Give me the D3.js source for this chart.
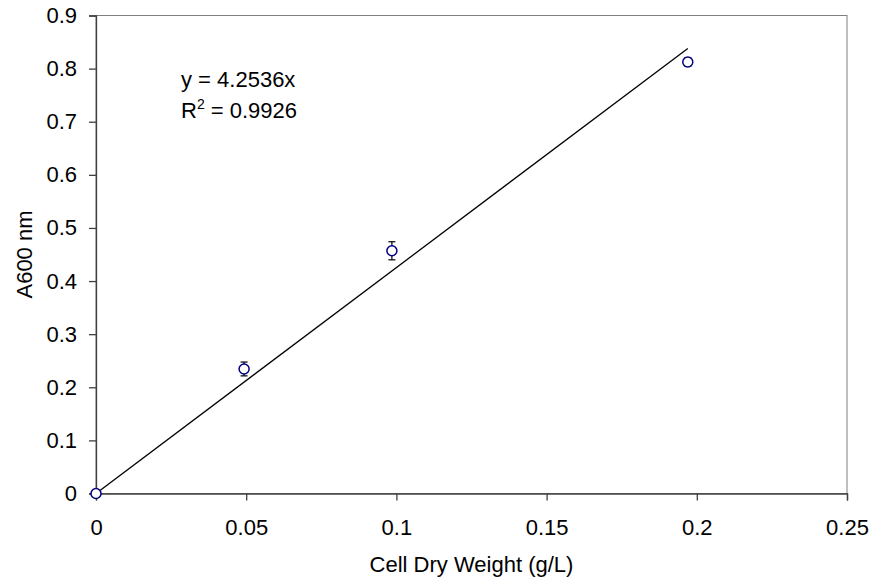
<!DOCTYPE html>
<html>
<head>
<meta charset="utf-8">
<script src="https://cdn.jsdelivr.net/npm/d3@7"></script>
<style>
  html, body { margin: 0; padding: 0; background: #fff; }
  svg { display: block; font-family: "Liberation Sans", Arial, sans-serif; }
</style>
</head>
<body>
<svg id="chart" width="876" height="586"></svg>
<script>
// Cell dry weight (g/L) vs absorbance at 600 nm
const dryWeight = [0, 0.0493, 0.0985, 0.197];
const absorbance = [0, 0.2345, 0.457, 0.8125];
const absError = [0, 0.013, 0.017, 0.008];
const slope = 4.2536;
const rSquared = "0.9926";
const xTicks = [0, 0.05, 0.1, 0.15, 0.2, 0.25];
const yTicks = [0, 0.1, 0.2, 0.3, 0.4, 0.5, 0.6, 0.7, 0.8, 0.9];

const FONT = 22;
const svg = d3.select("#chart");
const margin = { left: 96, right: 29, top: 15.5, bottom: 92.5 };
const W = 876, H = 586;

const x = d3.scaleLinear().domain([0, 0.25]).range([margin.left, W - margin.right]);
const y = d3.scaleLinear().domain([0, 0.9]).range([H - margin.bottom, margin.top]);

// plot-area frame
svg.append("rect")
  .attr("x", x(0)).attr("y", y(0.9))
  .attr("width", x(0.25) - x(0)).attr("height", y(0) - y(0.9))
  .attr("fill", "none").attr("stroke", "#808080").attr("stroke-width", 1);

const fmt = d => d === 0 ? "0" : String(+d.toFixed(2));

const xAxis = svg.append("g")
  .attr("transform", `translate(0,${y(0)})`)
  .call(d3.axisBottom(x).tickValues(xTicks).tickFormat(fmt).tickSize(7).tickPadding(19));
const yAxis = svg.append("g")
  .attr("transform", `translate(${x(0)},0)`)
  .call(d3.axisLeft(y).tickValues(yTicks).tickFormat(fmt).tickSize(7).tickPadding(12));

[xAxis, yAxis].forEach(a => {
  a.attr("font-size", FONT).attr("font-family", "'Liberation Sans', Arial, sans-serif");
  a.selectAll("path, line").attr("stroke", "#404040").attr("stroke-width", 1.3);
  a.selectAll("text").attr("fill", "#000");
});

// axis titles
svg.append("text")
  .attr("x", (x(0) + x(0.25)) / 2).attr("y", 572)
  .attr("text-anchor", "middle").attr("font-size", FONT)
  .text("Cell Dry Weight (g/L)");
svg.append("text")
  .attr("transform", `translate(32,${(y(0) + y(0.9)) / 2}) rotate(-90)`)
  .attr("text-anchor", "middle").attr("font-size", FONT)
  .text("A600 nm");

// linear trendline through origin
const xMax = d3.max(dryWeight);
svg.append("line")
  .attr("x1", x(0)).attr("y1", y(0))
  .attr("x2", x(xMax)).attr("y2", y(slope * xMax))
  .attr("stroke", "#000").attr("stroke-width", 1.3);

// error bars
const eb = svg.append("g").attr("stroke", "#000").attr("stroke-width", 1.2);
dryWeight.forEach((d, i) => {
  if (absError[i] <= 0) return;
  const cx = x(d), lo = y(absorbance[i] - absError[i]), hi = y(absorbance[i] + absError[i]);
  eb.append("line").attr("x1", cx).attr("x2", cx).attr("y1", lo).attr("y2", hi);
  eb.append("line").attr("x1", cx - 3.5).attr("x2", cx + 3.5).attr("y1", lo).attr("y2", lo);
  eb.append("line").attr("x1", cx - 3.5).attr("x2", cx + 3.5).attr("y1", hi).attr("y2", hi);
});

// data markers
svg.append("g").selectAll("circle")
  .data(dryWeight)
  .join("circle")
  .attr("cx", d => x(d))
  .attr("cy", (d, i) => y(absorbance[i]))
  .attr("r", 5)
  .attr("fill", "#fff")
  .attr("stroke", "#000080")
  .attr("stroke-width", 1.5);

// regression equation
const eq = svg.append("g").attr("font-size", FONT);
eq.append("text").attr("x", 181).attr("y", 87).text(`y = ${slope}x`);
const r2 = eq.append("text").attr("x", 181).attr("y", 118);
r2.append("tspan").text("R");
r2.append("tspan").attr("font-size", 14).attr("dy", -9).text("2");
r2.append("tspan").attr("dy", 9).text(` = ${rSquared}`);
</script>
</body>
</html>
